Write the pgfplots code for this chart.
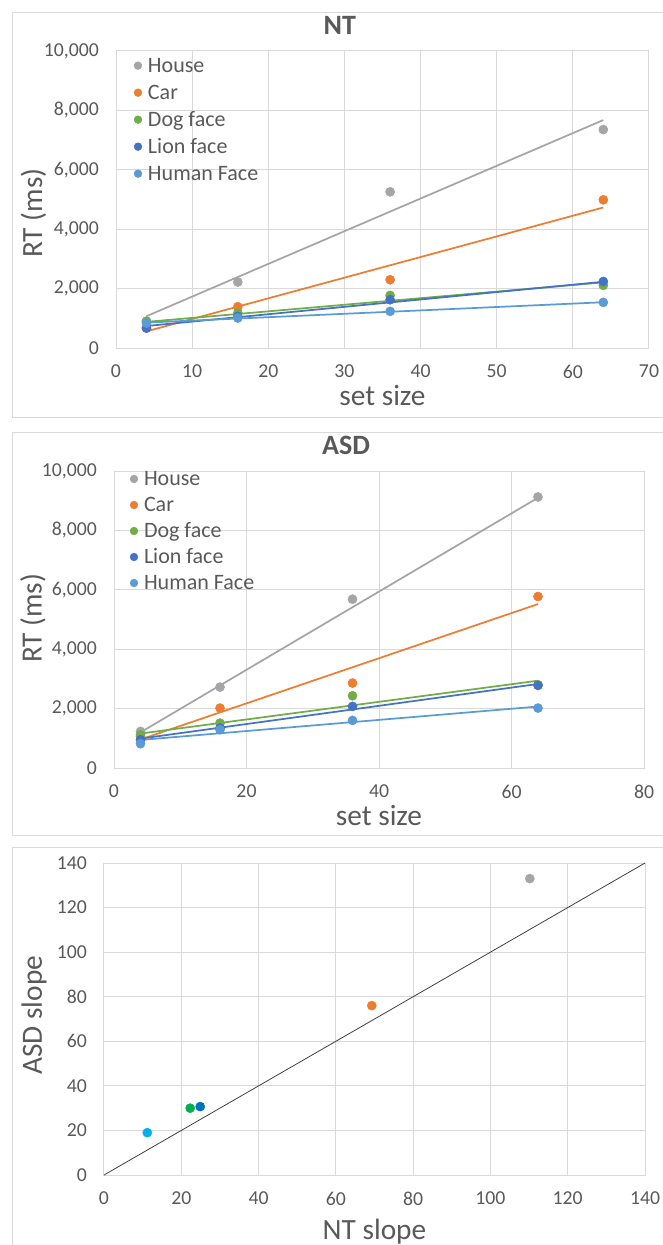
\documentclass[border=0pt]{standalone}
\usepackage{fontspec}
\setmainfont{Carlito}
\usepackage{pgfplots}
\pgfplotsset{compat=1.18}
\definecolor{txt}{HTML}{595959}
\definecolor{grd}{HTML}{D9D9D9}
\definecolor{cHouse}{HTML}{A5A5A5}
\definecolor{cCar}{HTML}{ED7D31}
\definecolor{cDog}{HTML}{70AD47}
\definecolor{cLion}{HTML}{4472C4}
\definecolor{cHuman}{HTML}{5B9BD5}
\definecolor{sGreen}{HTML}{00B050}
\definecolor{sBlue}{HTML}{0070C0}
\definecolor{sCyan}{HTML}{00B0F0}
\pgfplotsset{
  excel/.style={
    scale only axis, anchor=south west,
    axis line style={grd, line width=0.75pt},
    grid=major, grid style={grd, line width=0.75pt},
    major tick length=0pt,
    scaled ticks=false,
    tick label style={font=\fontsize{14.8}{16}\selectfont, text=txt},
    xticklabel style={yshift=-9.3pt},
    yticklabel style={xshift=-9.3pt},
    label style={font=\fontsize{22}{24}\selectfont, text=txt},
    title style={font=\fontsize{21}{24}\selectfont\bfseries, text=txt, anchor=base},
    /pgf/number format/assume math mode=true,
    /pgf/number format/1000 sep={,},
    clip=false,
    legend cell align=left,
  },
  dot/.style={only marks, mark=*, mark size=3.4pt, color=#1, mark options={fill=#1, draw=#1},
    legend image code/.code={\draw[##1, mark size=2.9pt] plot coordinates {(0cm,0cm)};}},
  trend/.style={no marks, color=#1, line width=1.3pt, forget plot},
  leg/.style={font=\fontsize{16.5}{18}\selectfont, text=txt, draw=none, fill=none,
    inner sep=0pt, outer sep=0pt, row sep=#1,
    nodes={inner sep=0pt, text height=13pt, text depth=3pt},
    /tikz/every odd column/.append style={column sep=4.6pt}},
}
\begin{document}
\begin{tikzpicture}
\useasboundingbox (0,0) rectangle (496.5pt,-933.75pt);
\begin{scope}[x=0.75pt,y=-0.75pt]
\draw[grd, line width=0.75pt] (12,13) rectangle (690,417);
\draw[grd, line width=0.75pt] (12,432) rectangle (690,835);
\draw[grd, line width=0.75pt] (12,847) rectangle (690,1270);
\end{scope}

% ---------- NT ----------
\begin{axis}[excel, at={(87pt,-261pt)}, width=399.75pt, height=222.75pt,
  xmin=0, xmax=70, ymin=0, ymax=10000,
  xtick={0,10,...,70}, ytick={0,2000,...,10000},
  title={NT}, title style={at={(axis description cs:0.42,1)}, yshift=6.2pt},
  xlabel={set size}, xlabel style={at={(axis description cs:0.5,0)}, anchor=base, yshift=-43.3pt},
  ylabel={RT (ms)}, ylabel style={at={(axis description cs:0,0.454)}, anchor=center, yshift=61.9pt},
  legend style={leg=4.25pt, at={(axis description cs:0,1)}, anchor=north west, xshift=13.6pt, yshift=-3pt},
]
\addplot[dot=cHouse] coordinates {(4,900) (16,2220) (36,5258) (64,7354)};
\addlegendentry{House}
\addplot[dot=cCar] coordinates {(4,670) (16,1390) (36,2298) (64,4989)};
\addlegendentry{Car}
\addplot[dot=cDog] coordinates {(4,900) (16,1180) (36,1770) (64,2108)};
\addlegendentry{Dog face}
\addplot[dot=cLion] coordinates {(4,670) (16,1065) (36,1625) (64,2240)};
\addlegendentry{Lion face}
\addplot[dot=cHuman] coordinates {(4,840) (16,1010) (36,1233) (64,1536)};
\addlegendentry{Human Face}
\addplot[trend=cHouse] coordinates {(4,1070) (64,7675)};
\addplot[trend=cCar] coordinates {(4,560) (64,4731)};
\addplot[trend=cDog] coordinates {(4,880) (64,2210)};
\addplot[trend=cLion] coordinates {(4,740) (64,2230)};
\addplot[trend=cHuman] coordinates {(4,855) (64,1540)};
\end{axis}

% ---------- ASD ----------
\begin{axis}[excel, at={(85.5pt,-576pt)}, width=397.5pt, height=222.75pt,
  xmin=0, xmax=80, ymin=0, ymax=10000,
  xtick={0,20,...,80}, ytick={0,2000,...,10000},
  title={ASD}, title style={at={(axis description cs:0.438,1)}, yshift=6.2pt},
  xlabel={set size}, xlabel style={at={(axis description cs:0.5,0)}, anchor=base, yshift=-43.3pt},
  ylabel={RT (ms)}, ylabel style={at={(axis description cs:0,0.504)}, anchor=center, yshift=60.75pt},
  legend style={leg=3.5pt, at={(axis description cs:0,1)}, anchor=north west, xshift=12.1pt, yshift=2pt},
]
\addplot[dot=cHouse] coordinates {(4,1233) (16,2724) (36,5684) (64,9126)};
\addlegendentry{House}
\addplot[dot=cCar] coordinates {(4,1065) (16,2018) (36,2860) (64,5774)};
\addlegendentry{Car}
\addplot[dot=cDog] coordinates {(4,1121) (16,1513) (36,2433) (64,2803)};
\addlegendentry{Dog face}
\addplot[dot=cLion] coordinates {(4,953) (16,1345) (36,2074) (64,2780)};
\addlegendentry{Lion face}
\addplot[dot=cHuman] coordinates {(4,818) (16,1289) (36,1603) (64,2018)};
\addlegendentry{Human Face}
\addplot[trend=cHouse] coordinates {(4,1200) (64,9100)};
\addplot[trend=cCar] coordinates {(4,960) (64,5520)};
\addplot[trend=cDog] coordinates {(4,1160) (64,2940)};
\addplot[trend=cLion] coordinates {(4,990) (64,2830)};
\addplot[trend=cHuman] coordinates {(4,945) (64,2070)};
\end{axis}

% ---------- slopes ----------
\begin{axis}[excel, at={(78pt,-881.25pt)}, width=405.75pt, height=234pt,
  xmin=0, xmax=140, ymin=0, ymax=140,
  xtick={0,20,...,140}, ytick={0,20,...,140},
  xlabel={NT slope}, xlabel style={at={(axis description cs:0.5,0)}, anchor=base, yshift=-48.7pt},
  ylabel={ASD slope}, ylabel style={at={(axis description cs:0,0.512)}, anchor=center, yshift=52.5pt},
]
\addplot[no marks, color=black!75, line width=0.6pt] coordinates {(0,0) (140,140)};
\addplot[dot=cHouse] coordinates {(110.2,133)};
\addplot[dot=cCar] coordinates {(69.3,76)};
\addplot[dot=sGreen] coordinates {(22.3,30)};
\addplot[dot=sBlue] coordinates {(24.9,30.7)};
\addplot[dot=sCyan] coordinates {(11.2,19)};
\end{axis}
\end{tikzpicture}
\end{document}
